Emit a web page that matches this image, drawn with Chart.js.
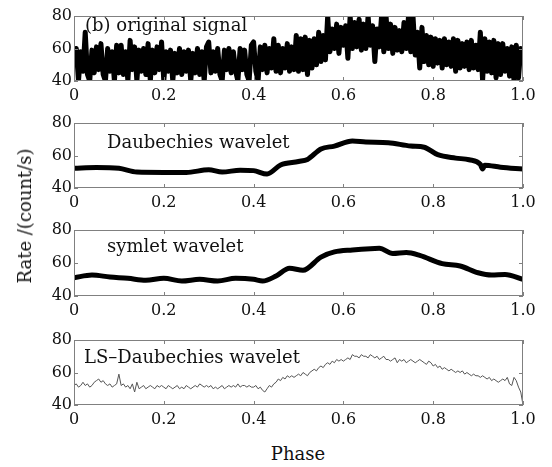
<!DOCTYPE html>
<html>
<head>
<meta charset="utf-8">
<script src="https://cdn.jsdelivr.net/npm/chart.js"></script>
<style>
  body { margin:0; background:#fff; }
  #fig { position:relative; width:552px; height:467px; background:#fff; font-family:"DejaVu Serif", serif; color:#111; }
  #fig canvas { position:absolute; left:0; }
  .lbl { position:absolute; font-size:18px; line-height:18px; white-space:nowrap; }
</style>
</head>
<body>
<div id="fig">
  <canvas id="p1" width="552" height="107" style="top:4px"></canvas>
  <canvas id="p2" width="552" height="107" style="top:111px"></canvas>
  <canvas id="p3" width="552" height="108" style="top:218px"></canvas>
  <canvas id="p4" width="552" height="107" style="top:328px"></canvas>
  <div class="lbl" style="left:85px;top:16px">(b) original signal</div>
  <div class="lbl" style="left:107px;top:133px">Daubechies wavelet</div>
  <div class="lbl" style="left:107px;top:237px">symlet wavelet</div>
  <div class="lbl" style="left:84px;top:348px">LS–Daubechies wavelet</div>
  <div class="lbl" style="left:298px;top:445px;transform:translateX(-50%)">Phase</div>
  <div class="lbl" style="left:25px;top:216px;transform:translate(-50%,-50%) rotate(-90deg)">Rate /(count/s)</div>
</div>
<script>
// ── DATA ───────────────────────────────────────────
const phaseTicks = [0, 0.2, 0.4, 0.6, 0.8, 1.0];
const rateTicks = [40, 60, 80];

// original signal, one value every 0.005 in phase
const origRate = [
  52, 60, 40, 58, 46, 70, 44, 40, 59, 45,
  61, 47, 63, 44, 40, 60, 46, 58, 40, 62,
  45, 62, 44, 58, 40, 65, 47, 61, 40, 59,
  46, 60, 44, 63, 40, 59, 45, 61, 47, 64,
  40, 58, 46, 59, 40, 57, 45, 60, 44, 58,
  46, 59, 40, 57, 45, 60, 44, 58, 40, 61,
  64, 45, 58, 46, 60, 44, 40, 59, 47, 60,
  45, 58, 46, 40, 60, 47, 59, 44, 40, 62,
  64, 46, 40, 61, 47, 62, 45, 60, 48, 66,
  46, 62, 45, 60, 48, 63, 46, 61, 47, 68,
  46, 66, 47, 67, 44, 65, 48, 66, 50, 70,
  52, 68, 53, 80, 58, 72, 60, 75, 57, 73,
  62, 74, 54, 80, 60, 76, 61, 78, 59, 75,
  60, 80, 62, 74, 52, 72, 61, 80, 58, 80,
  60, 75, 57, 73, 59, 71, 58, 76, 60, 80,
  58, 80, 56, 70, 48, 73, 52, 68, 50, 67,
  49, 66, 51, 65, 48, 66, 50, 64, 49, 66,
  46, 65, 48, 63, 49, 64, 47, 65, 48, 62,
  47, 70, 40, 66, 46, 64, 45, 65, 42, 63,
  44, 63, 46, 60, 43, 61, 40, 62, 42, 60,
  52
];

const dbPhase = [0, 0.05, 0.1, 0.14, 0.2, 0.25, 0.3, 0.33, 0.37, 0.4, 0.43, 0.46, 0.5, 0.52, 0.55, 0.58, 0.62, 0.65, 0.7, 0.75, 0.78, 0.81, 0.85, 0.88, 0.905, 0.91, 0.915, 0.95, 1.0];
const dbRate  = [52.1, 52.6, 52.1, 49.8, 49.6, 49.6, 51.2, 49.8, 51, 50.7, 48.6, 54.2, 56.3, 57.6, 64, 65.8, 68.9, 68.3, 67.9, 65.8, 65.1, 60.5, 58.4, 57.4, 54.5, 51.7, 54, 52.8, 51.7];

const symPhase = [0, 0.04, 0.08, 0.12, 0.16, 0.2, 0.24, 0.28, 0.32, 0.36, 0.4, 0.42, 0.45, 0.48, 0.51, 0.55, 0.58, 0.62, 0.66, 0.68, 0.71, 0.74, 0.77, 0.82, 0.86, 0.9, 0.93, 0.96, 1.0];
const symRate  = [51.1, 52.7, 51.5, 50.7, 49.5, 50.7, 49.1, 50.1, 49.1, 50.7, 50.1, 49.1, 52.1, 56.8, 55.6, 63.6, 66.7, 67.9, 68.7, 68.9, 65.7, 66.3, 64.6, 59.6, 58.2, 54.1, 52.7, 53.1, 50.1];

// LS-Daubechies result, one value every 0.005 in phase
const lsRate = [
  52, 53, 51, 52, 54, 52, 53, 51, 52, 54,
  55, 56, 54, 55, 53, 52, 53, 51, 52, 53,
  59, 52, 53, 51, 52, 50, 53, 48, 54, 50,
  51, 52, 50, 51, 52, 51, 50, 52, 51, 52,
  51, 50, 52, 51, 50, 51, 52, 50, 51, 50,
  52, 51, 50, 51, 52, 51, 53, 52, 51, 52,
  51, 52, 50, 51, 50, 51, 52, 50, 51, 52,
  51, 52, 51, 53, 51, 52, 52, 51, 52, 51,
  51, 52, 50, 51, 49, 48, 50, 52, 51, 53,
  54, 56, 55, 57, 56, 58, 57, 58, 57, 58,
  59, 58, 60, 59, 58, 60, 61, 62, 61, 63,
  64, 63, 65, 66, 65, 67, 66, 68, 67, 68,
  67, 68, 69, 68, 71, 70, 70, 69, 71, 70,
  70, 69, 71, 70, 69, 70, 68, 69, 70, 68,
  68, 67, 68, 69, 66, 68, 67, 68, 66, 67,
  68, 67, 66, 67, 68, 67, 66, 65, 67, 66,
  64, 65, 63, 64, 62, 63, 62, 61, 62, 61,
  60, 61, 60, 61, 59, 60, 59, 58, 59, 58,
  58, 57, 58, 57, 56, 57, 55, 56, 55, 54,
  55, 56, 55, 57, 53, 52, 57, 55, 51, 48,
  40
];

// ── HELPERS ────────────────────────────────────────
const evenly = arr => arr.map((r, i) => ({ x: i / (arr.length - 1), y: r }));
const paired = (xs, ys) => xs.map((p, i) => ({ x: p, y: ys[i] }));

// gray box round the plot area with short inward ticks
const framePlugin = {
  id: 'frame',
  afterDraw(chart) {
    const { ctx, chartArea: a, scales: { x, y } } = chart;
    ctx.save();
    ctx.strokeStyle = '#808080';
    ctx.lineWidth = 1;
    ctx.strokeRect(a.left + 0.5, a.top + 0.5, a.right - a.left - 1, a.bottom - a.top - 1);
    ctx.beginPath();
    x.ticks.forEach(t => {
      const px = Math.round(x.getPixelForValue(t.value)) + 0.5;
      ctx.moveTo(px, a.bottom); ctx.lineTo(px, a.bottom - 4);
      ctx.moveTo(px, a.top);    ctx.lineTo(px, a.top + 4);
    });
    y.ticks.forEach(t => {
      const py = Math.round(y.getPixelForValue(t.value)) + 0.5;
      ctx.moveTo(a.left, py);  ctx.lineTo(a.left + 4, py);
      ctx.moveTo(a.right, py); ctx.lineTo(a.right - 4, py);
    });
    ctx.stroke();
    ctx.restore();
  }
};

const tickFont = { family: 'DejaVu Serif', size: 16 };

function panel(id, dataset) {
  return new Chart(document.getElementById(id), {
    type: 'line',
    data: { datasets: [Object.assign({ pointRadius: 0, tension: 0, clip: 0, borderJoinStyle: 'round' }, dataset)] },
    options: {
      responsive: false,
      animation: false,
      events: [],
      layout: { padding: { top: 12, right: 29, left: 0, bottom: 0 } },
      plugins: { legend: { display: false }, tooltip: { enabled: false } },
      scales: {
        x: {
          type: 'linear', min: 0, max: 1,
          afterBuildTicks: s => { s.ticks = phaseTicks.map(v => ({ value: v })); },
          afterFit: s => { s.height = 30; },
          grid: { display: false, drawTicks: false },
          border: { display: false },
          ticks: { padding: 5, color: '#111', font: tickFont, maxRotation: 0, autoSkip: false,
                   callback: v => v === 0 ? '0' : v.toFixed(1) }
        },
        y: {
          min: 40, max: 80,
          afterBuildTicks: s => { s.ticks = rateTicks.map(v => ({ value: v })); },
          afterFit: s => { s.width = 74; },
          grid: { display: false, drawTicks: false },
          border: { display: false },
          ticks: { padding: 2, color: '#111', font: tickFont, callback: v => String(v) }
        }
      }
    },
    plugins: [framePlugin]
  });
}

// ── PANELS ─────────────────────────────────────────
panel('p1', { data: evenly(origRate), borderColor: '#000', borderWidth: 5 });
panel('p2', { data: paired(dbPhase, dbRate), borderColor: '#000', borderWidth: 5, cubicInterpolationMode: 'monotone' });
panel('p3', { data: paired(symPhase, symRate), borderColor: '#000', borderWidth: 5, cubicInterpolationMode: 'monotone' });
panel('p4', { data: evenly(lsRate), borderColor: '#555', borderWidth: 1 });
</script>
</body>
</html>
